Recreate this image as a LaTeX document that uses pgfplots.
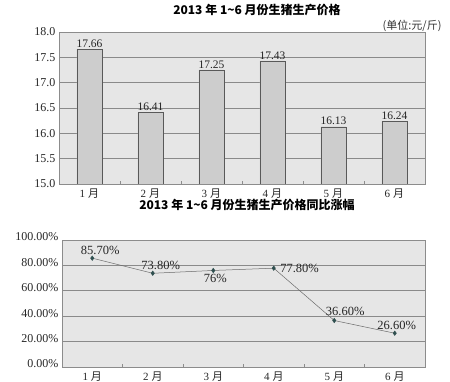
\documentclass[border=0pt]{standalone}
\usepackage{pgfplots}
\pgfplotsset{compat=1.18}
\usepackage{fontspec}
\setmainfont{Liberation Serif}
\newfontfamily\cjk{Noto Sans CJK SC}
\definecolor{plotbg}{HTML}{E6E6E6}
\definecolor{barfill}{HTML}{CDCDCD}
\definecolor{gridc}{HTML}{8A8A8A}
\definecolor{framec}{HTML}{8C8C8C}
\definecolor{markc}{HTML}{2F4F4F}
\definecolor{linec}{HTML}{6A6A6A}
\begin{document}
\begin{tikzpicture}
\path[use as bounding box] (0pt,0pt) rectangle (450pt,382pt);
% titles
\node[font={\cjk\bfseries\fontsize{12}{14}\selectfont}] at (257pt,372pt) {2013 年 1\textasciitilde6 月份生猪生产价格};
\node[anchor=east, font={\cjk\fontsize{11}{13}\selectfont}, text=black!80] at (445pt,356pt) {(单位:元/斤)};
\node[font={\cjk\bfseries\fontsize{12}{14}\selectfont}] at (247pt,177pt) {2013 年 1\textasciitilde6 月份生猪生产价格同比涨幅};
% top chart
\begin{axis}[
  at={(59pt,198pt)}, anchor=south west, scale only axis,
  width=366pt, height=152pt,
  xmin=-0.5, xmax=5.5, ymin=15, ymax=18,
  axis background/.style={fill=plotbg},
  axis line style={draw=framec},
  xtick={0,1,2,3,4,5},
  xticklabels={1\hspace{3pt}{\cjk 月},2\hspace{3pt}{\cjk 月},3\hspace{3pt}{\cjk 月},4\hspace{3pt}{\cjk 月},5\hspace{3pt}{\cjk 月},6\hspace{3pt}{\cjk 月}},
  minor xtick={0.5,1.5,2.5,3.5,4.5},
  major tick length=0pt, minor tick length=3pt,
  xtick pos=left,
  minor tick style={draw=framec},
  ytick={15,15.5,16,16.5,17,17.5,18},
  yticklabel style={font=\fontsize{12}{14}\selectfont, /pgf/number format/.cd,fixed,precision=1,zerofill},
  ymajorgrids, major grid style={draw=gridc, line width=0.6pt},
  /pgf/number format/assume math mode=true,
  tick label style={text=black!85},
  xticklabel style={font=\fontsize{11}{13}\selectfont, yshift=-1pt},
]
\addplot[ybar, bar width=25pt, fill=barfill, draw=black!65,
  nodes near coords,
  nodes near coords style={font=\fontsize{11.5}{13}\selectfont, text=black!85, inner sep=1.5pt},
  ] coordinates {(0,17.66) (1,16.41) (2,17.25) (3,17.43) (4,16.13) (5,16.24)};
\end{axis}
% bottom chart
\begin{axis}[
  at={(62pt,15pt)}, anchor=south west, scale only axis,
  width=363pt, height=127pt,
  xmin=-0.5, xmax=5.5, ymin=0, ymax=100,
  axis background/.style={fill=plotbg},
  axis line style={draw=framec},
  xtick={0,1,2,3,4,5},
  xticklabels={1\hspace{3pt}{\cjk 月},2\hspace{3pt}{\cjk 月},3\hspace{3pt}{\cjk 月},4\hspace{3pt}{\cjk 月},5\hspace{3pt}{\cjk 月},6\hspace{3pt}{\cjk 月}},
  minor xtick={0.5,1.5,2.5,3.5,4.5},
  major tick length=0pt, minor tick length=3pt,
  xtick pos=left,
  minor tick style={draw=framec},
  ytick={0,20,40,60,80,100},
  yticklabel={\pgfmathprintnumber[fixed,precision=2,zerofill]{\tick}\%},
  ymajorgrids, major grid style={draw=gridc, line width=0.6pt},
  /pgf/number format/assume math mode=true,
  tick label style={text=black!85},
  yticklabel style={font=\fontsize{12}{14}\selectfont, yshift=3pt},
  xticklabel style={font=\fontsize{11}{13}\selectfont, yshift=-1pt},
  every node near coord/.append style={font=\fontsize{12.5}{14}\selectfont, text=black!85},
]
\addplot[color=linec, line width=0.5pt, mark=diamond*, mark size=2.2pt,
  mark options={fill=markc, draw=markc}]
  coordinates {(0,85.7) (1,73.8) (2,76) (3,77.8) (4,36.6) (5,26.6)};
\addplot[draw=none, forget plot, point meta=explicit symbolic, nodes near coords,
  every node near coord/.append style={anchor=south, xshift=8pt}]
  coordinates {(0,85.7)[85.70\%] (1,73.8)[73.80\%]};
\addplot[draw=none, forget plot, point meta=explicit symbolic, nodes near coords,
  every node near coord/.append style={anchor=north, xshift=2pt}]
  coordinates {(2,76)[76\%]};
\addplot[draw=none, forget plot, point meta=explicit symbolic, nodes near coords,
  every node near coord/.append style={anchor=west, xshift=3pt}]
  coordinates {(3,77.8)[77.80\%]};
\addplot[draw=none, forget plot, point meta=explicit symbolic, nodes near coords,
  every node near coord/.append style={anchor=south, xshift=11pt, yshift=1pt}]
  coordinates {(4,36.6)[36.60\%]};
\addplot[draw=none, forget plot, point meta=explicit symbolic, nodes near coords,
  every node near coord/.append style={anchor=south, xshift=2pt}]
  coordinates {(5,26.6)[26.60\%]};
\end{axis}
\end{tikzpicture}
\end{document}
